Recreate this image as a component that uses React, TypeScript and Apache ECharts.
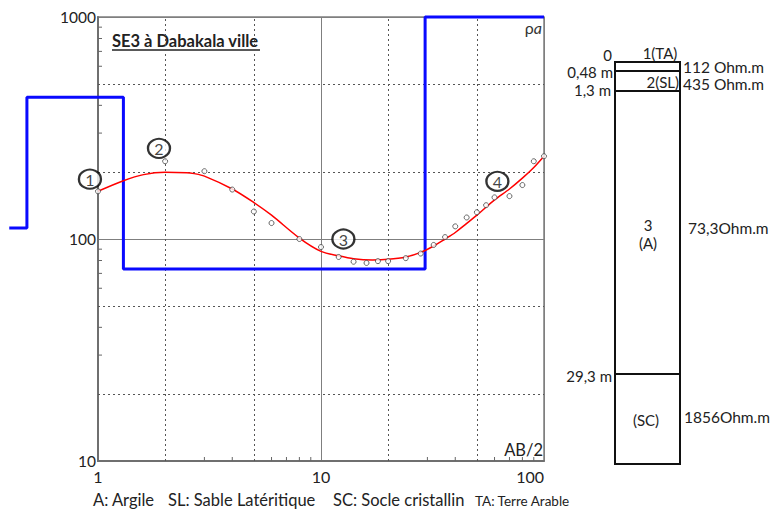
import React, { useEffect, useRef } from "react";
import * as echarts from "echarts";

// ---- data ----
const measuredPoints: [number, number][] = [
  [1, 164], [2, 224], [3, 202], [4, 167], [5, 133], [6, 118], [8, 100], [10, 92],
  [12, 83], [14, 79], [16, 78], [18, 79.5], [20, 79.5], [24, 82], [28, 86], [32, 94],
  [36, 102], [40, 114], [45, 125], [50, 132], [55, 142], [60, 154], [70, 156],
  [80, 175], [90, 224], [100, 236],
];
const fittedCurve: [number, number][] = [
  [1, 164], [1.3, 183], [1.6, 195], [2, 200], [2.5, 199], [2.7, 197], [3, 192],
  [4, 168], [5, 146], [6, 128], [8, 101], [10, 88], [12, 84], [14, 81.5], [17, 80.5],
  [20, 81], [24, 83], [28, 87], [32, 93], [36, 100], [40, 107], [50, 128], [60, 150],
  [70, 168], [80, 188], [90, 210], [100, 236],
];
// model layers
const layerDepths = [0.48, 1.3, 29.3];
const layerRho = [112, 435, 73.3, 1856];
const modelStartAB = 0.4;
const modelEndAB = 100;
// annotations (circled numbers)
const annotations: [number, number, string][] = [
  [0.92, 186, "1"], [1.877, 256, "2"], [12.6, 100, "3"], [61.8, 182, "4"],
];
const xMinorTicks = [3, 4, 6, 7, 8, 9, 30, 40, 60, 70, 80, 90];
const yMinorTicks = [30, 40, 60, 70, 80, 90, 300, 400, 600, 700, 800, 900];
const xDashed = [2, 5, 20, 50];
const yDashed = [20, 50, 200, 500];
const depthLabels = ["0", "0,48 m", "1,3 m", "29,3 m"];
const rhoLabels = ["112 Ohm.m", "435 Ohm.m", "73,3Ohm.m", "1856Ohm.m"];
const legendItems = ["A: Argile", "SL: Sable Latéritique", "SC: Socle cristallin", "TA: Terre Arable"];

const FONT = "Lato, 'Open Sans', sans-serif";
const Y_MAX = 1000;

function buildModel(): [number, number][] {
  const pts: [number, number][] = [[modelStartAB, Math.min(layerRho[0], Y_MAX)]];
  layerDepths.forEach((d, i) => {
    pts.push([d, Math.min(layerRho[i], Y_MAX)]);
    pts.push([d, Math.min(layerRho[i + 1], Y_MAX)]);
  });
  pts.push([modelEndAB, Math.min(layerRho[layerRho.length - 1], Y_MAX)]);
  return pts;
}

export default function App() {
  const ref = useRef<HTMLDivElement>(null);
  useEffect(() => {
    if (!ref.current) return;
    const chart = echarts.init(ref.current, null, { renderer: "svg" });
    const gridLeft = 98;
    const gridRight = 776 - 544;
    const gridTop = 17;
    const gridBottom = 509 - 461;
    const pxPerDecade = (544 - 98) / 2;
    const grid2Left = gridLeft - pxPerDecade * Math.log10(1 / modelStartAB);

    const txt = (x: number, y: number, s: string, extra: any = {}) => ({
      type: "text",
      x,
      y,
      silent: true,
      style: {
        text: s,
        fill: "#222",
        font: `16.5px ${FONT}`,
        textVerticalAlign: "middle",
        textAlign: "left",
        ...extra,
      },
    });
    const colFont = `15px ${FONT}`;

    const colL = 615, colR = 680, colTop = 62, colBot = 464;
    const boundaryY = [71, 91, 374];

    const option: any = {
      animation: false,
      backgroundColor: "#fff",
      textStyle: { fontFamily: FONT },
      grid: [
        {
          left: gridLeft, right: gridRight, top: gridTop, bottom: gridBottom,
          show: true, borderColor: "#7f7f7f", borderWidth: 1.5, backgroundColor: "transparent",
        },
        { left: grid2Left, right: gridRight, top: gridTop, bottom: gridBottom, show: false },
      ],
      xAxis: [
        {
          type: "log", logBase: 10, min: 1, max: 100, gridIndex: 0,
          axisLine: { show: true, lineStyle: { color: "#6f6f6f", width: 2 } },
          axisTick: { show: false },
          axisLabel: {
            color: "#222", fontSize: 16, fontFamily: FONT, margin: 7, alignMaxLabel: "right",
            formatter: (v: number) => String(Math.round(v)),
          },
          splitLine: { show: true, lineStyle: { color: "#7f7f7f", width: 1 } },
        },
        {
          type: "log", logBase: 10, min: modelStartAB, max: 100, gridIndex: 1, show: false,
          splitLine: { show: false },
        },
      ],
      yAxis: [
        {
          type: "log", logBase: 10, min: 10, max: 1000, gridIndex: 0,
          axisLine: { show: true, lineStyle: { color: "#6f6f6f", width: 2 } },
          axisTick: { show: false },
          axisLabel: {
            color: "#222", fontSize: 15.5, fontFamily: FONT, margin: 2,
            formatter: (v: number) => String(Math.round(v)),
          },
          splitLine: { show: true, lineStyle: { color: "#7f7f7f", width: 1 } },
        },
        {
          type: "log", logBase: 10, min: 10, max: 1000, gridIndex: 1, show: false,
          splitLine: { show: false },
        },
      ],
      series: [
        {
          type: "custom",
          xAxisIndex: 0, yAxisIndex: 0,
          silent: true,
          data: xMinorTicks.map((v) => [v, 10]),
          renderItem: (params: any, api: any) => {
            const p = api.coord([api.value(0), api.value(1)]);
            return {
              type: "line",
              shape: { x1: p[0], y1: p[1], x2: p[0], y2: p[1] - 4 },
              style: { stroke: "#666", lineWidth: 1 },
            };
          },
        },
        {
          type: "custom",
          xAxisIndex: 0, yAxisIndex: 0,
          silent: true,
          data: yMinorTicks.map((v) => [1, v]),
          renderItem: (params: any, api: any) => {
            const p = api.coord([api.value(0), api.value(1)]);
            return {
              type: "line",
              shape: { x1: p[0], y1: p[1], x2: p[0] + 4, y2: p[1] },
              style: { stroke: "#666", lineWidth: 1 },
            };
          },
        },
        {
          type: "line",
          xAxisIndex: 1, yAxisIndex: 1,
          data: buildModel(),
          showSymbol: false,
          symbol: "none",
          lineStyle: { color: "#0a0aff", width: 3 },
          z: 3,
          clip: false,
        },
        {
          type: "line",
          xAxisIndex: 0, yAxisIndex: 0,
          data: fittedCurve,
          smooth: 0.3,
          showSymbol: false,
          symbol: "none",
          lineStyle: { color: "#ff0000", width: 1.5 },
          z: 4,
        },
        {
          type: "scatter",
          xAxisIndex: 0, yAxisIndex: 0,
          data: measuredPoints,
          symbol: "circle",
          symbolSize: 5,
          itemStyle: { color: "#fff", borderColor: "#444", borderWidth: 1 },
          z: 5,
          markLine: {
            silent: true,
            symbol: "none",
            label: { show: false },
            lineStyle: { color: "#555", width: 1, type: [2, 3] },
            data: [
              ...xDashed.map((v) => ({ xAxis: v })),
              ...yDashed.map((v) => ({ yAxis: v })),
            ],
            z: 1,
          },
        },
        {
          type: "scatter",
          xAxisIndex: 1, yAxisIndex: 1,
          data: annotations,
          symbol: "circle",
          symbolSize: [22, 19],
          itemStyle: { color: "#fff", borderColor: "#000", borderWidth: 2.2 },
          label: {
            show: true, position: "inside", color: "#111", fontSize: 16, fontFamily: FONT,
            formatter: (p: any) => p.value[2],
          },
          z: 6,
        },
      ],
      graphic: [
        txt(112, 41, "SE3 à Dabakala ville", { font: `bold 16.5px ${FONT}` }),
        { type: "line", silent: true, shape: { x1: 112, y1: 50, x2: 260, y2: 50 }, style: { stroke: "#222", lineWidth: 1.3 } },
        {
          type: "text", x: 542, y: 27, silent: true,
          style: {
            text: "{r|ρ}{a|a}", textAlign: "right", textVerticalAlign: "middle",
            rich: {
              r: { fontSize: 16, fontFamily: FONT, fill: "#333", color: "#333" },
              a: { fontSize: 16, fontFamily: FONT, fontStyle: "italic", fill: "#333", color: "#333" },
            },
          },
        },
        txt(543, 450, "AB/2", { textAlign: "right" }),
        // column
        { type: "rect", silent: true, shape: { x: colL, y: colTop, width: colR - colL, height: colBot - colTop }, style: { fill: "none", stroke: "#111", lineWidth: 2 } },
        ...boundaryY.map((y) => ({ type: "line", silent: true, shape: { x1: colL, y1: y, x2: colR, y2: y }, style: { stroke: "#111", lineWidth: 2 } })),
        txt(612, 55, depthLabels[0], { textAlign: "right", font: colFont }),
        txt(613, 72, depthLabels[1], { textAlign: "right", font: colFont }),
        txt(611, 90, depthLabels[2], { textAlign: "right", font: colFont }),
        txt(612, 376, depthLabels[3], { textAlign: "right", font: colFont }),
        txt(660, 53, "1(TA)", { textAlign: "center", font: colFont }),
        txt(679, 82, "2(SL)", { textAlign: "right", font: colFont }),
        txt(648, 225, "3", { textAlign: "center", font: colFont }),
        txt(648, 243, "(A)", { textAlign: "center", font: colFont }),
        txt(646, 420, "(SC)", { textAlign: "center", font: colFont }),
        txt(683, 67, rhoLabels[0], { font: `15.5px ${FONT}` }),
        txt(683, 84, rhoLabels[1], { font: `15.5px ${FONT}` }),
        txt(688, 228, rhoLabels[2], { font: `15.5px ${FONT}` }),
        txt(684, 417, rhoLabels[3], { font: `15.5px ${FONT}` }),
        // legend row
        txt(93, 500, legendItems[0]),
        txt(168, 500, legendItems[1]),
        txt(333, 500, legendItems[2]),
        txt(475, 501, legendItems[3], { font: `13.5px ${FONT}` }),
      ],
    };
    chart.setOption(option);
    return () => chart.dispose();
  }, []);
  return (
    <div
      ref={ref}
      style={{ position: "fixed", left: 0, top: 0, width: 776, height: 509, background: "#fff" }}
    />
  );
}
